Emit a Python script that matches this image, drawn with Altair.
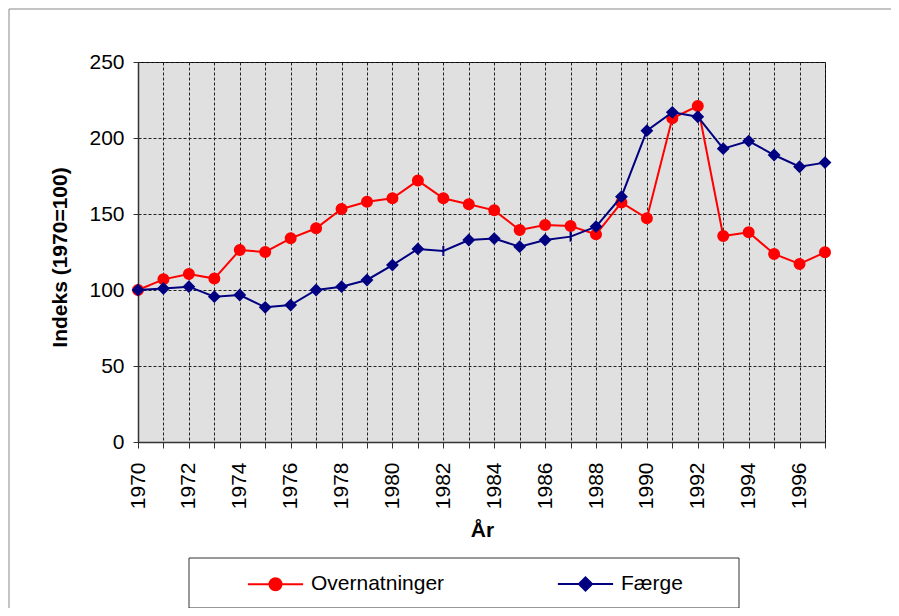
import altair as alt
import pandas as pd

years = list(range(1970, 1998))
overnatninger = [100, 107, 110.5, 107.5, 126.3, 125, 134, 140.6, 153.3, 158,
                 160.3, 172, 160.3, 156.4, 152.4, 139.5, 142.8, 142.1, 136.6, 157.5,
                 147.2, 213, 221, 135.5, 138, 123.7, 117.1, 124.8]
faerge = [100, 101, 102.2, 95.6, 96.7, 88.6, 90.1, 100, 102.2, 106.6,
          116.4, 127, 125.7, 132.9, 133.8, 128.5, 132.9, 135.1, 141.7, 161.4,
          204.8, 216.9, 214, 193, 198, 188.8, 181.1, 183.8]
faerge_markers = ["diamond"] * 12 + ["tick"] + ["diamond"] * 4 + ["tick"] + ["diamond"] * 10
series_names = ["Overnatninger", "Færge"]
series_colors = ["#FF0000", "#000080"]
y_ticks = [0, 50, 100, 150, 200, 250]

rows = []
for yr, v in zip(years, overnatninger):
    rows.append({"year": yr, "value": v, "series": "Overnatninger", "marker": "circle"})
for yr, v, m in zip(years, faerge, faerge_markers):
    rows.append({"year": yr, "value": v, "series": "Færge", "marker": m})
df = pd.DataFrame(rows)

FONT = "Liberation Sans"
W, H = 687, 380

x_enc = alt.X(
    "year:Q",
    scale=alt.Scale(domain=[1970, 1997], nice=False, zero=False),
    axis=alt.Axis(
        values=years, format="d",
        labelExpr="datum.value % 2 == 0 ? datum.label : ''",
        labelAngle=270, labelFont=FONT, labelFontSize=21, labelColor="#000",
        labelPadding=14, tickSize=6, tickColor="#333", domainColor="#333", domainWidth=1.5,
        labelOverlap=False, labelFlush=False,
        title="År", titleFont=FONT, titleFontSize=21, titleFontWeight="bold",
        titleColor="#000", titleX=344, titleY=94, titleBaseline="alphabetic",
        grid=True, gridColor="#222", gridDash=[3, 2], gridWidth=1,
    ),
)
y_enc = alt.Y(
    "value:Q",
    scale=alt.Scale(domain=[0, 250], nice=False),
    axis=alt.Axis(
        values=y_ticks, labelFont=FONT, labelFontSize=21, labelColor="#000",
        labelPadding=9, tickSize=5, tickColor="#333", domainColor="#333", domainWidth=1.5,
        title="Indeks (1970=100)", titleFont=FONT, titleFontSize=21, titleFontWeight="bold",
        titleColor="#000", titleX=-78, titleY=195, titleAngle=270,
        titleAlign="center", titleBaseline="middle",
        grid=True, gridColor="#222", gridDash=[3, 2], gridWidth=1,
    ),
)

color_scale = alt.Scale(domain=series_names, range=series_colors)
marker_scale = alt.Scale(domain=["circle", "diamond", "tick"],
                         range=["circle", "diamond", "M0,-1L0,1"])

base = alt.Chart(df)
one = pd.DataFrame({"a": [0]})

frame_top = alt.Chart(one).mark_rule(color="#888", strokeWidth=1).encode(
    x=alt.value(-129), x2=alt.value(1000), y=alt.value(-53))
frame_left = alt.Chart(one).mark_rule(color="#888", strokeWidth=1).encode(
    x=alt.value(-129), y=alt.value(-53), y2=alt.value(800))

legend_box = alt.Chart(one).mark_rect(
    fill="#FFFFFF", stroke="#333", strokeWidth=1
).encode(x=alt.value(51), x2=alt.value(601), y=alt.value(496), y2=alt.value(546))

layers = [frame_top, frame_left, legend_box]
for name in series_names:
    sub = base.transform_filter(alt.datum.series == name)
    layers.append(
        sub.mark_line(strokeWidth=2).encode(
            x=x_enc, y=y_enc,
            color=alt.Color("series:N", scale=color_scale, legend=None),
        )
    )
    layers.append(
        sub.mark_point(filled=True, size=100, strokeWidth=2, opacity=1).encode(
            x=x_enc, y=y_enc,
            fill=alt.Fill("series:N", scale=color_scale, legend=None),
            stroke=alt.Stroke("series:N", scale=color_scale, legend=None),
            shape=alt.Shape("marker:N", scale=marker_scale, legend=None),
        )
    )

circle_path = "M-4.6,0L4.6,0M-1,0A1,1,0,1,1,1,0A1,1,0,1,1,-1,0Z"
diamond_path = "M-4.6,0L4.6,0M0,-1.1L1.1,0L0,1.1L-1.1,0Z"
legend_def = alt.Legend(
    title=None, orient="none", legendX=110, legendY=511, direction="horizontal",
    labelFont=FONT, labelFontSize=21, labelColor="#000",
    symbolOffset=17, labelOffset=25, columnPadding=108, padding=0,
    symbolSize=144, symbolStrokeWidth=2, symbolOpacity=1,
)
legend_layer = base.transform_filter(alt.datum.value < 0).mark_point(
    filled=True, size=144, strokeWidth=2, opacity=1
).encode(
    x=x_enc, y=y_enc,
    fill=alt.Fill("series:N", scale=alt.Scale(domain=series_names, range=series_colors), legend=legend_def),
    stroke=alt.Stroke("series:N", scale=alt.Scale(domain=series_names, range=series_colors), legend=legend_def),
    shape=alt.Shape("series:N", scale=alt.Scale(domain=series_names, range=[circle_path, diamond_path]), legend=legend_def),
)
layers.append(legend_layer)

chart = alt.layer(*layers).resolve_scale(
    fill="independent", stroke="independent", shape="independent"
).properties(
    width=W, height=H,
    autosize=alt.AutoSizeParams(type="none"),
    padding={"left": 130, "top": 54, "right": 66, "bottom": 166},
    background="#FFFFFF",
).configure_view(
    fill="#E0E0E0", stroke="#000", strokeWidth=1
)

chart.save("out.html", embed_options={"renderer": "svg", "actions": False})
